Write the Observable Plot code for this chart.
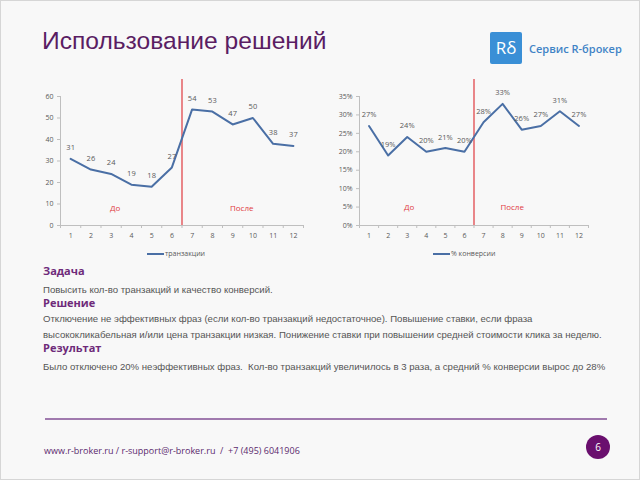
<!DOCTYPE html>
<html><head><meta charset="utf-8">
<script src="https://cdn.jsdelivr.net/npm/d3@7"></script>
<script src="https://cdn.jsdelivr.net/npm/@observablehq/plot@0.6"></script>
<style>
body{margin:0;background:#f8f8f8;}
#slide{position:relative;width:640px;height:480px;background:#f8f8f8;overflow:hidden;font-family:"Liberation Sans",Arial,sans-serif;box-sizing:border-box;border:1px solid #d6d6d6;}
.abs{position:absolute;white-space:nowrap;}
.h{color:#6e2a7a;font-weight:bold;font-size:11px;font-family:"Open Sans",sans-serif;}
.t{color:#555;font-size:9.6px;font-family:"Liberation Sans",Arial,sans-serif;}
.leg{position:absolute;font-family:"Open Sans",sans-serif;font-size:7px;color:#595959;display:flex;align-items:center;}
.leg span.l{display:inline-block;width:17px;height:2px;background:#4a6fa5;margin-right:1px;}
</style></head><body>
<div id="slide">
  <div class="abs" style="left:41px;top:26px;font-size:24.6px;color:#5a1d63;">Использование решений</div>
  <div class="abs" style="left:489px;top:31px;width:32px;height:32px;background:#3a8fd6;border-radius:2px;color:#fff;font-family:'Open Sans',sans-serif;font-size:17px;line-height:32px;text-align:center;">Rδ</div>
  <div class="abs" style="left:528px;top:40px;font-size:11px;color:#3f83c6;font-family:'Open Sans',sans-serif;font-weight:600;">Сервис R-брокер</div>
  <div id="c1" class="abs" style="left:30px;top:78px;"></div>
  <div id="c2" class="abs" style="left:320px;top:78px;"></div>
  <div class="leg" style="left:146px;top:248px;"><span class="l"></span>транзакции</div>
  <div class="leg" style="left:432px;top:248px;"><span class="l"></span>% конверсии</div>
  <div class="abs h" style="left:42px;top:262px;">Задача</div>
  <div class="abs t" style="left:42px;top:283px;">Повысить кол-во транзакций и качество конверсий.</div>
  <div class="abs h" style="left:42px;top:294px;">Решение</div>
  <div class="abs t" style="left:42px;top:312px;">Отключение не эффективных фраз (если кол-во транзакций недостаточное). Повышение ставки, если фраза</div>
  <div class="abs t" style="left:42px;top:328px;">высококликабельная и/или цена транзакции низкая. Понижение ставки при повышении средней стоимости клика за неделю.</div>
  <div class="abs h" style="left:42px;top:339px;">Результат</div>
  <div class="abs t" style="left:42px;top:360px;">Было отключено 20% неэффективных фраз.&nbsp; Кол-во транзакций увеличилось в 3 раза, а средний % конверсии вырос до 28%</div>
  <div class="abs" style="left:44px;top:417px;width:562px;height:2px;background:#a07aae;"></div>
  <div class="abs" style="left:43px;top:443px;font-size:9px;color:#5b2a6e;font-family:'Open Sans',sans-serif;">www.r-broker.ru / r-support@r-broker.ru&nbsp; / &nbsp;+7 (495) 6041906</div>
  <div class="abs" style="left:585px;top:434px;width:24px;height:24px;border-radius:50%;background:#6a0f6e;color:#fff;font-size:10px;line-height:24px;text-align:center;font-family:'Open Sans',sans-serif;">6</div>
</div>
<script>
const months = [1,2,3,4,5,6,7,8,9,10,11,12];
const transactions = [31,26,24,19,18,27,54,53,47,50,38,37];
const conversion = [27,19,24,20,21,20,28,33,26,27,31,27];
const splitMonth = 6.5;
const periods1 = [{label:"До", x:3.2, y:8}, {label:"После", x:9.45, y:8}];
const periods2 = [{label:"До", x:3.1, y:4.8}, {label:"После", x:8.5, y:4.8}];

function chart({values, yMax, yStep, fmt, periods, ml, mr}) {
  const data = months.map((m, i) => ({m, v: values[i]}));
  const grey = "#bfbfbf";
  return Plot.plot({
    width: 280, height: 168,
    marginTop: 17, marginBottom: 22, marginLeft: ml, marginRight: mr,
    style: {background: "transparent", fontFamily: "'Open Sans', sans-serif", fontSize: "7px", color: "#595959", overflow: "visible"},
    x: {domain: [0.5, 12.5], axis: null},
    y: {domain: [0, yMax], axis: null},
    marks: [
      Plot.ruleX([0.5], {stroke: grey}),
      Plot.ruleY([0], {stroke: grey}),
      Plot.axisY({ticks: d3.range(0, yMax + yStep / 2, yStep), tickFormat: fmt, tickSize: 3, tickPadding: 4, stroke: grey, fill: "#595959"}),
      Plot.axisX({ticks: d3.range(0.5, 13, 1), tickFormat: () => "", tickSize: 3, stroke: grey}),
      Plot.axisX({ticks: months, tickFormat: d => d, tickSize: 0, tickPadding: 8, fill: "#595959"}),
      Plot.ruleX([splitMonth], {stroke: "#e0393e", strokeWidth: 1.2, insetTop: -17}),
      Plot.line(data, {x: "m", y: "v", stroke: "#4a6fa5", strokeWidth: 2}),
      Plot.text(data, {x: "m", y: "v", text: d => fmt(d.v), dy: -11, fill: "#595959", fontSize: 7.5}),
      Plot.text(periods, {x: "x", y: "y", text: "label", fill: "#e0393e", fontSize: 8})
    ]
  });
}
document.getElementById("c1").append(chart({values: transactions, yMax: 60, yStep: 10, fmt: d => `${d}`, periods: periods1, ml: 29, mr: 8}));
document.getElementById("c2").append(chart({values: conversion, yMax: 35, yStep: 5, fmt: d => `${d}%`, periods: periods2, ml: 38, mr: 13}));
</script>
</body></html>
